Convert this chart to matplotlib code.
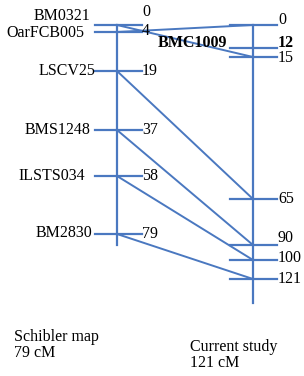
import numpy as np
import matplotlib
matplotlib.use("Agg")
from matplotlib import pyplot as plt

plt.rcParams['font.family'] = ['Liberation Serif', 'DejaVu Serif']

# left map (Schibler)
left_names = ["BM0321", "OarFCB005", "LSCV25", "BMS1248", "ILSTS034", "BM2830"]
left_cm = [0, 4, 19, 37, 58, 79]
left_pos = [0, 7, 46, 105, 151, 209]      # drawn position on the schematic

# right map (current study)
right_cm = [0, 12, 15, 65, 90, 100, 121]
right_pos = [0, 23, 32, 174, 220, 235, 254]

# links: left marker index -> right tick index
links = [(0, 2), (1, 0), (2, 3), (3, 4), (4, 5), (5, 6)]

blue = '#4a78c0'
fs = 11.5

fig = plt.figure(figsize=(3.04, 3.76), dpi=100)
ax = fig.add_axes([0, 0, 1, 1])
ax.set_xlim(0, 304)
ax.set_ylim(351, -25)
ax.axis('off')

xl, xr = 117, 253

# chromosome bars
ax.plot([xl, xl], [0, 220], color=blue, lw=1.6)
ax.plot([xr, xr], [0, 278], color=blue, lw=1.6)

# ticks
for p in left_pos:
    ax.plot([xl - 22, xl + 25], [p, p], color=blue, lw=1.6)
for p in right_pos:
    ax.plot([xr - 23, xr + 24], [p, p], color=blue, lw=1.6)

# links
for i, j in links:
    ax.plot([xl, xr], [left_pos[i], right_pos[j]], color=blue, lw=1.4)

# left labels
name_dx = [-27, -33, -22, -27, -32, -25]
name_dy = [-9, 1, 0, 0, 0, -1]
num_dy = [-13, -1, 0, 0, 0, 0]
for n, c, p, dx, d1, d2 in zip(left_names, left_cm, left_pos, name_dx, name_dy, num_dy):
    ax.text(xl + dx, p + d1, n, ha='right', va='center', fontsize=fs)
    ax.text(xl + 25, p + d2, str(c), ha='left', va='center', fontsize=fs)

# right labels
rnum_dy = [-5, -5, 1, 0, -7, -2, 0]
for c, p, d in zip(right_cm, right_pos, rnum_dy):
    ax.text(xr + 25, p + d, str(c), ha='left', va='center', fontsize=fs,
            fontweight='bold' if c == 12 else 'normal')
ax.text(xr - 26, right_pos[1] - 5, "BMC1009", ha='right', va='center',
        fontsize=fs, fontweight='bold')

# map captions
ax.text(14, 320, "Schibler map\n79 cM", ha='left', va='center', fontsize=fs,
        linespacing=1.05)
ax.text(190, 330, "Current study\n121 cM", ha='left', va='center', fontsize=fs,
        linespacing=1.05)

fig.savefig("out.png", dpi=100)
